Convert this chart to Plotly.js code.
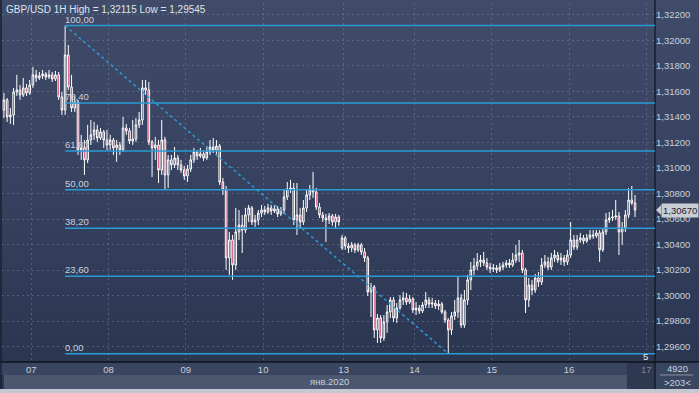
<!DOCTYPE html>
<html>
<head>
<meta charset="utf-8">
<script src="https://cdn.plot.ly/plotly-3.0.1.min.js"></script>
<style>
html,body{margin:0;padding:0;background:#2e3852;}
#wrap{position:relative;width:699px;height:393px;overflow:hidden;
 background:linear-gradient(to bottom,#3f4b68 0px,#36425f 180px,#2b3651 362px,#2b3651 393px);}
#chart{position:absolute;left:0;top:0;width:699px;height:393px;}
</style>
</head>
<body>
<div id="wrap"><div id="chart"></div></div>
<script>
// ---- data (GBP/USD 1H) ----
const title = 'GBP/USD 1H High = 1,32115 Low = 1,29545';
const dayTicks = [8.5, 32.5, 56.5, 80.5, 105.5, 127.5, 151.5, 175.5, 199.5];
const dayLabels = ['07','08','09','10','13','14','15','16','<span style="color:#7b869b">17</span>'];
const monthLabel = 'янв.2020';
const fibHigh = 1.32115;
const fibLow = 1.29545;
const fibRatios = [0, 0.236, 0.382, 0.5, 0.618, 0.764, 1];
const fibLabels = ['0,00','23,60','38,20','50,00','61,80','76,40','100,00'];
const fibStartBar = 19;
const fibEndBar = 138;
const lastPrice = 1.30670;
const lastLabel = '1,30670';

const open = [
1.31454,1.31533,1.31400,1.31415,1.31595,1.31611,1.31572,1.31627,1.31588,1.31650,
1.31729,1.31705,1.31721,1.31736,1.31713,1.31729,1.31697,1.31729,1.31556,1.31454,
1.31885,1.31634,1.31470,1.31517,1.31141,1.31157,1.31063,1.31219,1.31259,1.31298,
1.31235,1.31282,1.31219,1.31180,1.31219,1.31157,1.31180,1.31141,1.31313,1.31290,
1.31211,1.31227,1.31337,1.31376,1.31627,1.31611,1.31204,1.31157,1.31180,1.30984,
1.31219,1.30945,1.31063,1.31024,1.31078,1.31024,1.30984,1.30937,1.30992,1.31063,
1.31125,1.31094,1.31110,1.31078,1.31125,1.31164,1.31141,1.31172,1.30890,1.30828,
1.30295,1.30436,1.30240,1.30499,1.30553,1.30514,1.30632,1.30687,1.30577,1.30593,
1.30647,1.30671,1.30655,1.30687,1.30663,1.30679,1.30640,1.30671,1.30773,1.30835,
1.30843,1.30593,1.30632,1.30577,1.30687,1.30789,1.30828,1.30812,1.30694,1.30632,
1.30608,1.30593,1.30624,1.30577,1.30616,1.30373,1.30452,1.30389,1.30373,1.30397,
1.30358,1.30397,1.30342,1.30295,1.30029,1.30068,1.29731,1.29825,1.29668,1.29794,
1.29872,1.29966,1.29825,1.29903,1.29966,1.29982,1.29950,1.29974,1.29888,1.29903,
1.29880,1.29927,1.29966,1.29934,1.29942,1.29919,1.29934,1.29872,1.29809,1.29731,
1.29841,1.29872,1.29982,1.29770,1.29966,1.30123,1.30201,1.30232,1.30264,1.30279,
1.30256,1.30224,1.30209,1.30217,1.30201,1.30224,1.30240,1.30256,1.30240,1.30279,
1.30318,1.30334,1.30201,1.29966,1.30083,1.30044,1.30138,1.30107,1.30240,1.30264,
1.30224,1.30295,1.30318,1.30279,1.30295,1.30264,1.30318,1.30436,1.30381,1.30436,
1.30452,1.30428,1.30452,1.30475,1.30467,1.30491,1.30358,1.30499,1.30593,1.30608,
1.30616,1.30624,1.30499,1.30530,1.30632,1.30749,1.30726
];
const high = [
1.31588,1.31548,1.31470,1.31627,1.31729,1.31650,1.31705,1.31658,1.31689,1.31791,
1.31768,1.31752,1.31768,1.31752,1.31768,1.31752,1.31760,1.31752,1.31595,1.32115,
1.31963,1.31729,1.31572,1.31533,1.31259,1.31219,1.31337,1.31376,1.31360,1.31337,
1.31313,1.31298,1.31298,1.31259,1.31235,1.31219,1.31204,1.31400,1.31345,1.31313,
1.31376,1.31392,1.31439,1.31689,1.31689,1.31673,1.31219,1.31243,1.31219,1.31376,
1.31243,1.31102,1.31102,1.31164,1.31102,1.31063,1.31016,1.31024,1.31102,1.31157,
1.31141,1.31157,1.31133,1.31172,1.31219,1.31235,1.31219,1.31188,1.30922,1.30859,
1.30499,1.30475,1.30687,1.30671,1.30632,1.30687,1.30710,1.30702,1.30632,1.30671,
1.30710,1.30702,1.30718,1.30710,1.30710,1.30702,1.30694,1.30828,1.30890,1.30906,
1.30882,1.30882,1.30687,1.30749,1.30828,1.30867,1.30969,1.30843,1.30726,1.30655,
1.30640,1.30647,1.30640,1.30640,1.30632,1.30475,1.30467,1.30413,1.30420,1.30413,
1.30413,1.30413,1.30373,1.30311,1.30099,1.30083,1.29856,1.29848,1.29848,1.29927,
1.29989,1.29989,1.29942,1.30005,1.30029,1.30021,1.30005,1.29989,1.29950,1.29927,
1.29950,1.30029,1.29989,1.29982,1.29966,1.29966,1.29950,1.29888,1.29825,1.29872,
1.29966,1.30146,1.30013,1.30044,1.30162,1.30264,1.30295,1.30334,1.30318,1.30342,
1.30295,1.30256,1.30248,1.30240,1.30256,1.30264,1.30279,1.30287,1.30334,1.30397,
1.30436,1.30358,1.30217,1.30138,1.30123,1.30170,1.30185,1.30295,1.30318,1.30303,
1.30334,1.30358,1.30342,1.30334,1.30318,1.30358,1.30577,1.30475,1.30475,1.30491,
1.30475,1.30483,1.30514,1.30514,1.30514,1.30514,1.30530,1.30647,1.30655,1.30671,
1.30749,1.30655,1.30577,1.30671,1.30843,1.30859,1.30789
];
const low = [
1.31392,1.31360,1.31345,1.31337,1.31564,1.31533,1.31556,1.31564,1.31572,1.31627,
1.31673,1.31689,1.31697,1.31689,1.31697,1.31673,1.31681,1.31533,1.31415,1.31415,
1.31611,1.31439,1.31439,1.31102,1.31063,1.30945,1.31039,1.31180,1.31219,1.31204,
1.31219,1.31157,1.31141,1.31141,1.31102,1.31047,1.31102,1.31125,1.31259,1.31188,
1.31180,1.31204,1.31313,1.31337,1.31572,1.31180,1.30929,1.31063,1.30882,1.30945,
1.30828,1.30843,1.30984,1.31000,1.30984,1.30961,1.30906,1.30890,1.30969,1.31039,
1.31063,1.31078,1.31055,1.31063,1.31102,1.31117,1.31102,1.30867,1.30789,1.30201,
1.30162,1.30123,1.30201,1.30436,1.30334,1.30491,1.30577,1.30553,1.30538,1.30553,
1.30616,1.30632,1.30640,1.30632,1.30647,1.30616,1.30624,1.30640,1.30749,1.30804,
1.30553,1.30475,1.30530,1.30553,1.30655,1.30749,1.30765,1.30671,1.30608,1.30577,
1.30420,1.30561,1.30546,1.30530,1.30546,1.30358,1.30358,1.30334,1.30342,1.30334,
1.30342,1.30318,1.30264,1.29997,1.29833,1.29668,1.29629,1.29629,1.29645,1.29708,
1.29825,1.29794,1.29786,1.29888,1.29927,1.29927,1.29934,1.29864,1.29848,1.29856,
1.29864,1.29903,1.29903,1.29903,1.29895,1.29888,1.29856,1.29786,1.29545,1.29692,
1.29809,1.29825,1.29747,1.29747,1.29927,1.30044,1.30162,1.30201,1.30224,1.30232,
1.30201,1.30177,1.30185,1.30177,1.30185,1.30201,1.30217,1.30217,1.30224,1.30256,
1.30264,1.30177,1.29864,1.29911,1.30005,1.30021,1.30068,1.30083,1.30217,1.30201,
1.30201,1.30264,1.30256,1.30240,1.30232,1.30240,1.30295,1.30358,1.30358,1.30413,
1.30405,1.30413,1.30436,1.30444,1.30452,1.30264,1.30342,1.30475,1.30569,1.30585,
1.30593,1.30318,1.30397,1.30499,1.30608,1.30710,1.30616
];
const close = [
1.31533,1.31400,1.31415,1.31595,1.31611,1.31572,1.31627,1.31588,1.31650,1.31729,
1.31705,1.31721,1.31736,1.31713,1.31729,1.31697,1.31729,1.31556,1.31454,1.31885,
1.31634,1.31470,1.31517,1.31141,1.31157,1.31063,1.31219,1.31259,1.31298,1.31235,
1.31282,1.31219,1.31180,1.31219,1.31157,1.31180,1.31141,1.31313,1.31290,1.31211,
1.31227,1.31337,1.31376,1.31627,1.31611,1.31204,1.31157,1.31180,1.30984,1.31219,
1.30945,1.31063,1.31024,1.31078,1.31024,1.30984,1.30937,1.30992,1.31063,1.31125,
1.31094,1.31110,1.31078,1.31125,1.31164,1.31141,1.31172,1.30890,1.30828,1.30295,
1.30436,1.30240,1.30499,1.30553,1.30514,1.30632,1.30687,1.30577,1.30593,1.30647,
1.30671,1.30655,1.30687,1.30663,1.30679,1.30640,1.30671,1.30773,1.30835,1.30843,
1.30593,1.30632,1.30577,1.30687,1.30789,1.30828,1.30812,1.30694,1.30632,1.30608,
1.30593,1.30624,1.30577,1.30616,1.30577,1.30452,1.30389,1.30373,1.30397,1.30358,
1.30397,1.30342,1.30295,1.30029,1.30068,1.29731,1.29825,1.29668,1.29794,1.29872,
1.29966,1.29825,1.29903,1.29966,1.29982,1.29950,1.29974,1.29888,1.29903,1.29880,
1.29927,1.29966,1.29934,1.29942,1.29919,1.29934,1.29872,1.29809,1.29731,1.29841,
1.29872,1.29982,1.29770,1.29966,1.30123,1.30201,1.30232,1.30264,1.30279,1.30256,
1.30224,1.30209,1.30217,1.30201,1.30224,1.30240,1.30256,1.30240,1.30279,1.30318,
1.30334,1.30201,1.29966,1.30083,1.30044,1.30138,1.30107,1.30240,1.30264,1.30224,
1.30295,1.30318,1.30279,1.30295,1.30264,1.30318,1.30436,1.30381,1.30436,1.30452,
1.30428,1.30452,1.30475,1.30467,1.30491,1.30358,1.30499,1.30593,1.30608,1.30616,
1.30624,1.30499,1.30530,1.30632,1.30749,1.30726,1.30670
];
const bars = open.map((_, i) => i);

// ---- styling ----
const FIB = '#2a9bd6';
const TXT = '#c9d1de';
const FONT = 'Liberation Sans, Arial, sans-serif';
const X0 = -0.6, X1 = 202.2;

const fibLevels = fibRatios.map(r => fibLow + r * (fibHigh - fibLow));

const shapes = [
  // bottom bands
  {type:'rect', xref:'paper', yref:'paper', x0:-0.01, x1:1.08, y0:0, y1:-0.0362, fillcolor:'#3a4560', line:{width:0}, layer:'below'},
  {type:'rect', xref:'paper', yref:'paper', x0:0.003, x1:1, y0:-0.0362, y1:-0.0752, fillcolor:'#4b566f', line:{width:0}, layer:'below'},
  {type:'rect', xref:'paper', yref:'paper', x0:1, x1:1.08, y0:-0.0362, y1:-0.0752, fillcolor:'#3a4560', line:{width:0}, layer:'below'},
  {type:'rect', xref:'paper', yref:'paper', x0:-0.01, x1:1.08, y0:-0.0752, y1:-0.1, fillcolor:'#c4c8d0', line:{width:0}, layer:'below'},
  {type:'rect', xref:'paper', yref:'paper', x0:0.957, x1:1, y0:0, y1:-0.0752, fillcolor:'#2e3850', line:{width:0}, layer:'below'},
  // frame lines
  {type:'line', xref:'paper', yref:'paper', x0:-0.01, x1:1.08, y0:0, y1:0, line:{color:'#0f131b', width:1.5}},
  {type:'line', xref:'paper', yref:'paper', x0:1, x1:1, y0:1.02, y1:-0.0752, line:{color:'#0f131b', width:1.2}},
  {type:'line', xref:'paper', yref:'paper', x0:-0.0015, x1:-0.0015, y0:1.02, y1:-0.0752, line:{color:'#1b2130', width:1.5}},
  {type:'line', xref:'paper', yref:'paper', x0:1.0077, x1:1.0582, y0:-0.0362, y1:-0.0362, line:{color:'#9aa3b3', width:0.8}},
  // fibonacci diagonal
  {type:'line', xref:'x', yref:'y', x0:fibStartBar, y0:fibHigh, x1:fibEndBar, y1:fibLow, line:{color:FIB, width:1.5, dash:'dot'}},
  // price tag arrow
  {type:'path', xref:'paper', yref:'y', path:`M 1.0015,${lastPrice} L 1.0095,${lastPrice+0.00039} L 1.0095,${lastPrice-0.00039} Z`, fillcolor:'#c9cdd4', line:{width:0}}
];
fibLevels.forEach(v => shapes.push({type:'line', xref:'x', yref:'y', x0:fibStartBar, x1:X1, y0:v, y1:v, line:{color:FIB, width:1.5}}));

const annotations = [
  {xref:'paper', yref:'paper', x:0.003, y:0.983, xanchor:'left', yanchor:'middle', showarrow:false, text:title, font:{family:FONT, size:10, color:'#dfe5ee'}},
  {xref:'paper', yref:'paper', x:0.502, y:-0.0557, xanchor:'center', yanchor:'middle', showarrow:false, text:monthLabel, font:{family:FONT, size:9.5, color:TXT}},
  {xref:'paper', yref:'paper', x:1.034, y:-0.0175, xanchor:'center', yanchor:'middle', showarrow:false, text:'4920', font:{family:FONT, size:9.5, color:TXT}},
  {xref:'paper', yref:'paper', x:1.034, y:-0.058, xanchor:'center', yanchor:'middle', showarrow:false, text:'>203<', font:{family:FONT, size:9.5, color:TXT}},
  {xref:'paper', yref:'paper', x:0.9847, y:0.014, xanchor:'center', yanchor:'middle', showarrow:false, text:'5', font:{family:FONT, size:9.5, color:'#e6eaf0'}},
  {xref:'paper', yref:'y', x:1.0095, y:lastPrice, xanchor:'left', yanchor:'middle', showarrow:false, text:lastLabel, bgcolor:'#c9cdd4', borderpad:1, font:{family:FONT, size:9.5, color:'#1b2232'}}
];
fibLevels.forEach((v, k) => annotations.push({xref:'x', yref:'y', x:fibStartBar, y:v, xanchor:'left', yanchor:'bottom', showarrow:false, text:fibLabels[k], borderpad:0, xshift:-1, font:{family:FONT, size:9.5, color:TXT}}));

const trace = {
  type:'candlestick', x:bars, open:open, high:high, low:low, close:close,
  increasing:{line:{color:'#ffffff', width:1}, fillcolor:'#34405c'},
  decreasing:{line:{color:'#ffffff', width:1}, fillcolor:'#c4113f'},
  whiskerwidth:0, hoverinfo:'skip'
};

const layout = {
  width:699, height:393,
  margin:{l:2, r:44, t:3, b:31, pad:0},
  paper_bgcolor:'rgba(0,0,0,0)', plot_bgcolor:'rgba(0,0,0,0)',
  separators:', ',
  showlegend:false,
  font:{family:FONT, size:9.5, color:TXT},
  xaxis:{range:[X0, X1], tickmode:'array', tickvals:dayTicks, ticktext:dayLabels,
    showgrid:true, gridcolor:'rgba(125,140,168,0.45)', griddash:'2px,3px', gridwidth:1,
    zeroline:false, showline:false, ticks:'', rangeslider:{visible:false}, fixedrange:true,
    tickfont:{family:FONT, size:9.5, color:TXT}},
  yaxis:{range:[1.2948, 1.32292], side:'right', tickmode:'linear', tick0:1.296, dtick:0.002, tickformat:'.5f',
    showgrid:true, gridcolor:'rgba(125,140,168,0.45)', griddash:'2px,3px', gridwidth:1,
    zeroline:false, showline:false, ticks:'', fixedrange:true,
    tickfont:{family:FONT, size:9.5, color:TXT}},
  shapes:shapes, annotations:annotations
};

Plotly.newPlot('chart', [trace], layout, {staticPlot:true, displayModeBar:false});
</script>
</body>
</html>
